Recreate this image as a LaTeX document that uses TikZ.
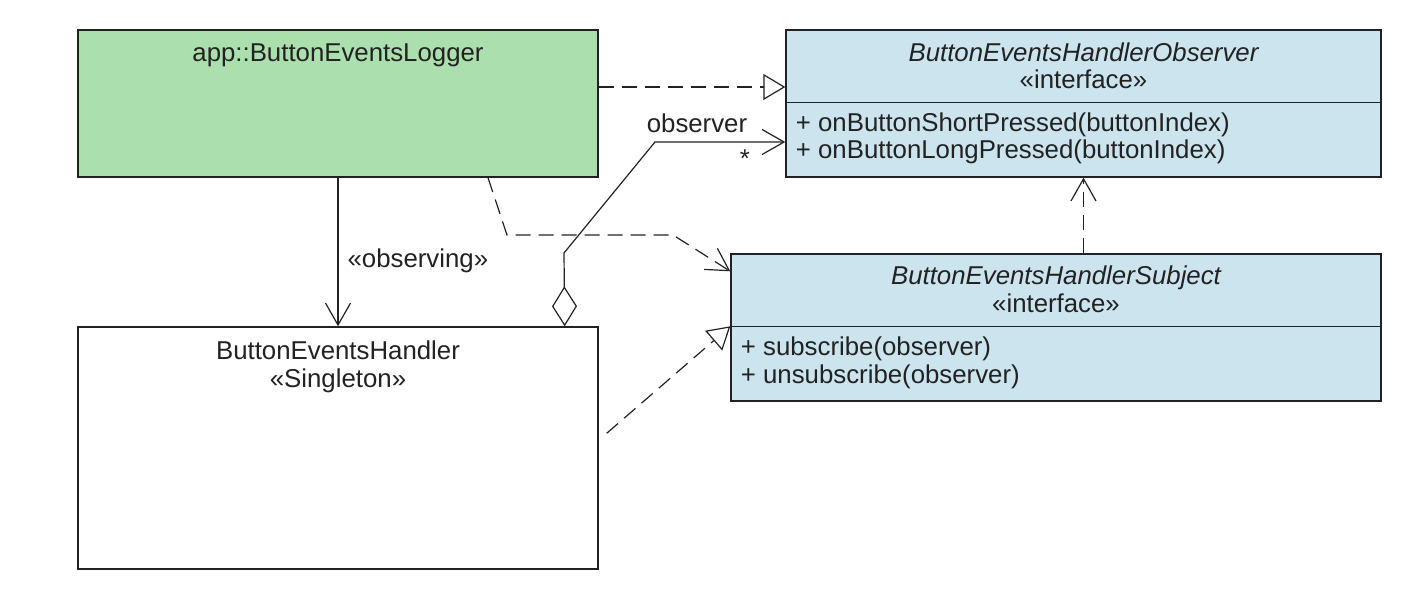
\documentclass[tikz,border=0pt]{standalone}
\usepackage{fontspec}
\setmainfont{Liberation Sans}
\usetikzlibrary{arrows.meta, positioning}

\definecolor{loggergreen}{RGB}{171,223,173}
\definecolor{ifaceblue}{RGB}{203,228,238}
\definecolor{umlink}{RGB}{34,34,34}

\begin{document}
\begin{tikzpicture}[
    x=0.5pt, y=-0.5pt,   % 1 unit = 1 px of the sketch, y runs down
    font=\fontsize{12.9}{14}\selectfont,
    line width=0.6pt,
    every node/.style={text=umlink},
    cls/.style={draw=umlink, rectangle, inner sep=0pt, line width=0.7pt},
    title/.style={anchor=base, inner sep=0pt},
    member/.style={anchor=base west, inner sep=0pt},
    dashline/.style={dash pattern=on 7.5pt off 4pt},
    realize/.style={dashline, -{Triangle[open, length=11pt, width=13pt]}},
    depend/.style={dashline, -{Straight Barb[length=11pt, width=12.5pt]}},
    assoc/.style={-{Straight Barb[length=11pt, width=12.5pt]}},
    aggr/.style={{Diamond[open, length=20pt, width=12.5pt]}-{Straight Barb[length=11pt, width=12.5pt]}},
]
\useasboundingbox (0,0) rectangle (1415,592);

% ── Classes ───────────────────────────────────────────────────────────────────
\node[cls, fill=loggergreen, minimum width=260pt, minimum height=73.5pt] (logger) at (338,103.5) {};
\node[cls, fill=ifaceblue, minimum width=297.5pt, minimum height=73.5pt] (obs) at (1083.5,103.5) {};
\node[cls, fill=ifaceblue, minimum width=325pt, minimum height=73.5pt] (subj) at (1056,327.5) {};
\node[cls, fill=white, minimum width=260pt, minimum height=121pt] (handler) at (338,448) {};

% compartment lines
\coordinate (obsSep) at ([yshift=-36.5pt]obs.north west);
\coordinate (subjSep) at ([yshift=-36.5pt]subj.north west);
\draw[umlink, line width=0.7pt] (obsSep) -- (obsSep -| obs.east);
\draw[umlink, line width=0.7pt] (subjSep) -- (subjSep -| subj.east);

% ── Class texts ───────────────────────────────────────────────────────────────
\node[title] (loggerName) at ([yshift=-16pt]logger.north) {app::ButtonEventsLogger};

\node[title] (obsName) at ([yshift=-16pt]obs.north) {\itshape ButtonEventsHandlerObserver};
\node[title] (obsStereo) at ([yshift=-29.75pt]obs.north) {«interface»};
\node[member] (obsShort) at ([xshift=5pt, yshift=-51pt]obs.north west) {+ onButtonShortPressed(buttonIndex)};
\node[member] (obsLong) at ([xshift=5pt, yshift=-64.5pt]obs.north west) {+ onButtonLongPressed(buttonIndex)};

\node[title] (subjName) at ([yshift=-15.5pt]subj.north) {\itshape ButtonEventsHandlerSubject};
\node[title] (subjStereo) at ([yshift=-29.5pt]subj.north) {«interface»};
\node[member] (subjSub) at ([xshift=5pt, yshift=-51pt]subj.north west) {+ subscribe(observer)};
\node[member] (subjUnsub) at ([xshift=5pt, yshift=-65pt]subj.north west) {+ unsubscribe(observer)};

\node[title] (handlerName) at ([yshift=-16.5pt]handler.north) {ButtonEventsHandler};
\node[title] (handlerStereo) at ([yshift=-30.5pt]handler.north) {«Singleton»};

% ── Relations ─────────────────────────────────────────────────────────────────
% logger realizes the observer interface
\draw[umlink, realize] ([yshift=8.25pt]logger.east) -- ([yshift=8.25pt]obs.west);

% logger observes the handler
\draw[umlink, assoc] (logger.south) -- (handler.north);
\node[member] (observingLbl) at (347,268) {«observing»};

% logger uses the subject interface
\coordinate (depA) at (507,235);
\coordinate (depB) at (673,235);
\draw[umlink, depend] ([xshift=75pt]logger.south) -- (depA) -- (depB) -- ([yshift=-9pt]subj.north west);

% subject depends on observer
\draw[umlink, depend] (subj.north -| obs.south) -- (obs.south);

% handler realizes the subject interface
\draw[umlink, realize] ([xshift=4pt, yshift=-53.5pt]handler.north east) -- (subjSep);

% handler holds the observers
\coordinate (aggA) at (564,253);
\coordinate (aggB) at (655,142);
\draw[umlink, aggr] ([xshift=-17pt]handler.north east) -- (aggA) -- (aggB) -- (aggB -| obs.west);
\node[title] (roleLbl) at (697,133) {observer};
\node[title] (multLbl) at (745,168) {*};

\end{tikzpicture}
\end{document}
